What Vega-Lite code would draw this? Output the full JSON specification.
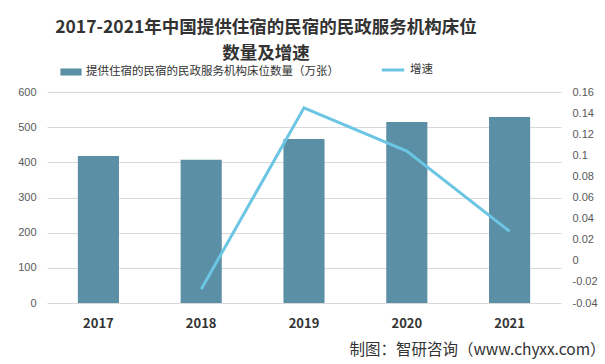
{
  "$schema": "https://vega.github.io/schema/vega-lite/v6.json",
  "width": 514,
  "height": 211,
  "autosize": {"type": "none"},
  "padding": {"left": 47, "top": 92, "right": 44, "bottom": 61},
  "background": "white",
  "config": {
    "view": {"stroke": null},
    "font": "Noto Sans CJK SC"
  },
  "title": {
    "text": ["2017-2021年中国提供住宿的民宿的民政服务机构床位", "数量及增速"],
    "fontSize": 17.5,
    "fontWeight": "bold",
    "color": "#333333",
    "lineHeight": 26,
    "anchor": "middle",
    "dx": -38,
    "offset": -5
  },
  "data": {
    "values": [
      {"year": "2017", "value": 418, "growth": null},
      {"year": "2018", "value": 407, "growth": -0.027},
      {"year": "2019", "value": 466, "growth": 0.145},
      {"year": "2020", "value": 515, "growth": 0.104},
      {"year": "2021", "value": 529, "growth": 0.028}
    ]
  },
  "encoding": {
    "x": {
      "field": "year",
      "type": "nominal",
      "scale": {"paddingInner": 0.6, "paddingOuter": 0.3},
      "axis": {
        "title": "制图：智研咨询（www.chyxx.com）",
        "titleFontSize": 15.5,
        "titleFontWeight": "normal",
        "titleColor": "#333333",
        "titleAnchor": "end",
        "titleAlign": "right",
        "titleBaseline": "middle",
        "titleX": 558,
        "titleY": 46,
        "labelAngle": 0,
        "labelFontSize": 13,
        "labelFontWeight": "bold",
        "labelColor": "#333333",
        "labelPadding": 14,
        "ticks": false,
        "domain": false
      }
    }
  },
  "layer": [
    {
      "mark": {"type": "bar", "color": "#5a8fa5"},
      "encoding": {
        "y": {
          "field": "value",
          "type": "quantitative",
          "scale": {"domain": [0, 600]},
          "axis": {
            "title": null,
            "values": [0, 100, 200, 300, 400, 500, 600],
            "grid": true,
            "gridColor": "#d9d9d9",
            "domain": false,
            "ticks": false,
            "labelColor": "#595959",
            "labelFontSize": 11,
            "labelPadding": 11,
            "labelFont": "Liberation Sans"
          }
        },
        "fill": {
          "datum": "提供住宿的民宿的民政服务机构床位数量（万张）",
          "type": "nominal",
          "scale": {"range": ["#5a8fa5"]},
          "legend": {
            "title": null,
            "orient": "none",
            "legendX": 13,
            "legendY": -31,
            "symbolType": "M-1,-0.33H1V0.33H-1Z",
            "symbolSize": 450,
            "symbolStrokeWidth": 0,
            "labelFontSize": 11.5,
            "labelLimit": 0,
            "labelColor": "#333333"
          }
        }
      }
    },
    {
      "transform": [{"filter": "datum.growth != null"}],
      "mark": {"type": "line", "color": "#6bc5e3", "strokeWidth": 3},
      "encoding": {
        "y": {
          "field": "growth",
          "type": "quantitative",
          "scale": {"domain": [-0.04, 0.16]},
          "axis": {
            "orient": "right",
            "title": null,
            "values": [-0.04, -0.02, 0, 0.02, 0.04, 0.06, 0.08, 0.1, 0.12, 0.14, 0.16],
            "labelExpr": "replace(format(datum.value, '.2~f'), '−', '-')",
            "grid": false,
            "domain": false,
            "ticks": false,
            "labelColor": "#595959",
            "labelFontSize": 11,
            "labelPadding": 11,
            "labelFont": "Liberation Sans"
          }
        },
        "stroke": {
          "datum": "增速",
          "type": "nominal",
          "scale": {"range": ["#6bc5e3"]},
          "legend": {
            "title": null,
            "orient": "none",
            "legendX": 333,
            "legendY": -35,
            "symbolType": "stroke",
            "symbolSize": 500,
            "symbolStrokeWidth": 3,
            "labelFontSize": 11.5,
            "labelColor": "#333333"
          }
        }
      }
    }
  ],
  "resolve": {"scale": {"y": "independent", "fill": "independent", "stroke": "independent"}}
}
